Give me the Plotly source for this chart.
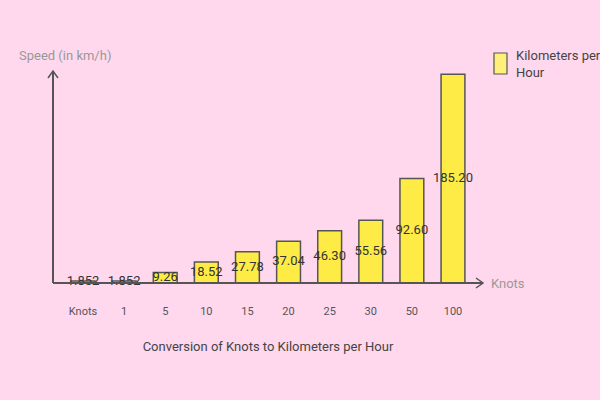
import plotly.graph_objects as go

categories = ["Knots", "1", "5", "10", "15", "20", "25", "30", "50", "100"]
kmh_values = [1.852, 1.852, 9.26, 18.52, 27.78, 37.04, 46.30, 55.56, 92.60, 185.20]
value_labels = ["1.852", "1.852", "9.26", "18.52", "27.78", "37.04", "46.30", "55.56", "92.60", "185.20"]
series_name = "Kilometers per Hour"

FONT = "Roboto, Liberation Sans, sans-serif"
BG = "#FFD8EE"
AXIS = "#555555"

fig = go.Figure()
fig.add_trace(go.Bar(
    x=list(range(len(categories))), y=kmh_values, name=series_name,
    width=0.58,
    marker=dict(color="#FFEB45", line=dict(color="#555555", width=1.5)),
    showlegend=False,
))
fig.add_trace(go.Scatter(
    x=list(range(len(categories))), y=[v / 2 for v in kmh_values],
    mode="text", text=value_labels,
    textfont=dict(family=FONT, size=13, color="#333333"),
    showlegend=False, cliponaxis=False, hoverinfo="skip",
))

L, R, T, B = 53, 483, 71, 283
W, H = R - L, B - T

def px(x):
    return (x - L) / W

def py(y):
    return (B - y) / H

shapes = [
    dict(type="line", xref="paper", yref="paper", x0=px(L), y0=py(B), x1=px(R), y1=py(B),
         line=dict(color=AXIS, width=2)),
    dict(type="line", xref="paper", yref="paper", x0=px(L), y0=py(B), x1=px(L), y1=py(T),
         line=dict(color=AXIS, width=2)),
    dict(type="path", xref="paper", yref="paper",
         path=f"M{px(R-7)},{py(B-5)} L{px(R)},{py(B)} L{px(R-7)},{py(B+5)}",
         line=dict(color=AXIS, width=1.5)),
    dict(type="path", xref="paper", yref="paper",
         path=f"M{px(L-5)},{py(T+7)} L{px(L)},{py(T)} L{px(L+5)},{py(T+7)}",
         line=dict(color=AXIS, width=1.5)),
    dict(type="rect", xref="paper", yref="paper", x0=px(494), x1=px(507), y0=py(74), y1=py(53),
         fillcolor="#FFF07A", line=dict(color="#555555", width=1.2)),
]

annotations = [
    dict(text="Speed (in km/h)", xref="paper", yref="paper", x=px(17), y=py(55),
         xanchor="left", yanchor="middle", showarrow=False,
         font=dict(family=FONT, size=13, color="#999999")),
    dict(text="Knots", xref="paper", yref="paper", x=px(489), y=py(283),
         xanchor="left", yanchor="middle", showarrow=False,
         font=dict(family=FONT, size=13, color="#999999")),
    dict(text="Kilometers per<br>Hour", xref="paper", yref="paper", x=px(514), y=py(64),
         xanchor="left", yanchor="middle", align="left", showarrow=False,
         font=dict(family=FONT, size=13, color="#444444")),
]

fig.update_layout(
    width=600, height=400,
    margin=dict(l=L, r=600 - R, t=T, b=400 - B),
    paper_bgcolor=BG, plot_bgcolor=BG,
    shapes=shapes, annotations=annotations,
    xaxis=dict(
        range=[-0.73, 9.73], tickmode="array", tickvals=list(range(len(categories))),
        ticktext=categories, showgrid=False, zeroline=False, showline=False,
        ticks="", ticklabelstandoff=20,
        tickfont=dict(family=FONT, size=11, color="#555555"),
        title=dict(text="Conversion of Knots to Kilometers per Hour", standoff=24,
                   font=dict(family=FONT, size=13, color="#444444")),
    ),
    yaxis=dict(range=[0, 188], showgrid=False, zeroline=False, showline=False,
               showticklabels=False, ticks=""),
)

fig.write_html("out.html", config={"displayModeBar": False},
               post_script="document.body.style.margin='0';document.body.style.overflow='hidden';")
